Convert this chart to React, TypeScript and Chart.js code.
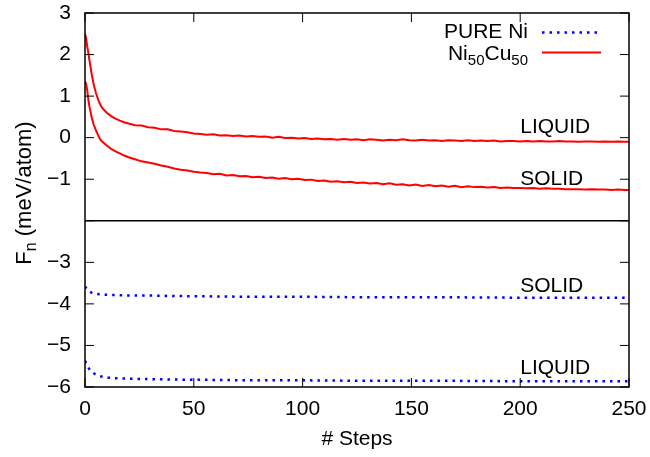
import React, { useEffect, useRef } from "react";
import { Chart, registerables } from "chart.js";

Chart.register(...registerables);

// ---------- data ----------
const redSteps = [
  0, 0.5, 1, 1.5, 2, 3, 4, 5, 6, 7, 8, 10, 12, 14, 16, 18,
  20, 23, 26, 29, 32, 35, 38, 41, 44, 47, 50, 53, 56, 59, 62, 65, 68, 71, 74, 77,
  80, 83, 86, 89, 92, 95, 98, 101, 104, 107, 110, 113, 116, 119, 122, 125, 128, 131, 134, 137,
  140, 143, 146, 149, 152, 155, 158, 161, 164, 167, 170, 173, 176, 179, 182, 185, 188, 191, 194, 197,
  200, 203, 206, 209, 212, 215, 218, 221, 224, 227, 230, 233, 236, 239, 242, 245, 248, 250,
];

const niCuLiquid = [
  2.5, 2.4, 2.2, 2.05, 1.88, 1.55, 1.28, 1.08, 0.92, 0.8, 0.71, 0.6, 0.52, 0.46, 0.41, 0.37,
  0.34, 0.3, 0.29, 0.25, 0.24, 0.2, 0.2, 0.16, 0.15, 0.13, 0.1, 0.09, 0.07, 0.08, 0.05, 0.06, 0.04, 0.05, 0.03, 0.04,
  0.02, 0.03, 0.0, 0.02, -0.01, 0.0, -0.02, -0.01, -0.03, -0.02, -0.04, -0.03, -0.05, -0.03, -0.05, -0.04, -0.06, -0.04, -0.05, -0.07,
  -0.05, -0.06, -0.04, -0.06, -0.07, -0.05, -0.07, -0.06, -0.08, -0.06, -0.07, -0.08, -0.06, -0.08, -0.07, -0.08, -0.07, -0.09, -0.08, -0.08,
  -0.09, -0.08, -0.09, -0.08, -0.09, -0.09, -0.08, -0.09, -0.09, -0.1, -0.09, -0.09, -0.1, -0.09, -0.1, -0.09, -0.1, -0.1,
];

const niCuSolid = [
  1.35, 1.3, 1.15, 0.93, 0.76, 0.5, 0.31, 0.18, 0.06, -0.04, -0.1, -0.19, -0.27, -0.33, -0.38, -0.43,
  -0.47, -0.52, -0.57, -0.6, -0.63, -0.67, -0.7, -0.74, -0.77, -0.79, -0.82, -0.84, -0.85, -0.88, -0.87, -0.91, -0.9, -0.93, -0.92, -0.95,
  -0.94, -0.97, -0.96, -0.99, -0.97, -1.0, -0.99, -1.02, -1.01, -1.04, -1.03, -1.06, -1.05, -1.07, -1.06, -1.09, -1.08, -1.1, -1.09, -1.12,
  -1.1, -1.13, -1.12, -1.15, -1.13, -1.16, -1.14, -1.17, -1.15, -1.18, -1.16, -1.19, -1.17, -1.19, -1.18, -1.2, -1.19, -1.21, -1.2, -1.21,
  -1.21, -1.22, -1.21, -1.23, -1.22, -1.23, -1.23, -1.24, -1.24, -1.24, -1.25, -1.24, -1.25, -1.25, -1.26, -1.25, -1.26, -1.26,
];

const blueSteps = [0, 1, 2, 3, 4, 5, 7, 10, 15, 20, 30, 40, 60, 80, 100, 130, 160, 200, 250];
const niSolid = [-3.58, -3.65, -3.7, -3.73, -3.75, -3.76, -3.77, -3.78, -3.79, -3.8, -3.8, -3.81, -3.82, -3.83, -3.83, -3.84, -3.84, -3.85, -3.85];
const niLiquid = [-5.37, -5.48, -5.57, -5.63, -5.67, -5.7, -5.74, -5.77, -5.79, -5.8, -5.81, -5.82, -5.83, -5.84, -5.84, -5.85, -5.85, -5.86, -5.86];

const xTicks = [0, 50, 100, 150, 200, 250];
const separatorY = -2;
const curveLabels = [
  { text: "LIQUID", x: 200, y: 0.24 },
  { text: "SOLID", x: 200, y: -1.0 },
  { text: "SOLID", x: 200, y: -3.57 },
  { text: "LIQUID", x: 200, y: -5.54 },
];

// ---------- styles ----------
const FONT = '"Liberation Sans", Arial, Helvetica, sans-serif';
const RED = "#ff0000";
const BLUE = "#0000ff";

const toXY = (xs: number[], ys: number[]) => xs.map((x, i) => ({ x, y: ys[i] }));

const zeroPad = (s: any) => {
  s.paddingTop = 0;
  s.paddingBottom = 0;
  s.paddingLeft = 0;
  s.paddingRight = 0;
};

const overlay = {
  id: "overlay",
  afterDraw(chart: any) {
    const { ctx, chartArea: a, scales } = chart;
    const xs = scales.x;
    const ys = scales.y;
    ctx.save();
    ctx.strokeStyle = "#000";
    ctx.lineWidth = 1.5;
    // frame
    ctx.strokeRect(a.left, a.top, a.right - a.left, a.bottom - a.top);
    // separator
    const yS = ys.getPixelForValue(separatorY);
    ctx.beginPath();
    ctx.moveTo(a.left, yS);
    ctx.lineTo(a.right, yS);
    ctx.stroke();
    // inward ticks
    const TL = 9;
    ctx.lineWidth = 1;
    ctx.beginPath();
    for (const t of ys.ticks) {
      const p = ys.getPixelForValue(t.value);
      ctx.moveTo(a.left, p);
      ctx.lineTo(a.left + TL, p);
      ctx.moveTo(a.right, p);
      ctx.lineTo(a.right - TL, p);
    }
    for (const t of xs.ticks) {
      const p = xs.getPixelForValue(t.value);
      ctx.moveTo(p, a.bottom);
      ctx.lineTo(p, a.bottom - TL);
      ctx.moveTo(p, a.top);
      ctx.lineTo(p, a.top + TL);
    }
    ctx.stroke();

    const big = `21px ${FONT}`;
    const small = `15px ${FONT}`;

    // curve labels
    ctx.fillStyle = "#000";
    ctx.font = big;
    ctx.textAlign = "left";
    ctx.textBaseline = "middle";
    for (const l of curveLabels) {
      ctx.fillText(l.text, xs.getPixelForValue(l.x), ys.getPixelForValue(l.y));
    }

    // legend
    const rightText = 528;
    const lx0 = 542;
    const lx1 = 601;
    const r1 = 32.5;
    const r2 = 52.5;
    ctx.textAlign = "right";
    ctx.fillText("PURE Ni", rightText, r1);
    ctx.save();
    ctx.strokeStyle = BLUE;
    ctx.lineWidth = 2.5;
    ctx.setLineDash([2.5, 5]);
    ctx.beginPath();
    ctx.moveTo(lx0, r1);
    ctx.lineTo(lx1, r1);
    ctx.stroke();
    ctx.restore();
    ctx.save();
    ctx.strokeStyle = RED;
    ctx.lineWidth = 2;
    ctx.beginPath();
    ctx.moveTo(lx0, r2);
    ctx.lineTo(lx1, r2);
    ctx.stroke();
    ctx.restore();
    // Ni50Cu50 with subscripts
    const parts = [
      { t: "Ni", sub: false },
      { t: "50", sub: true },
      { t: "Cu", sub: false },
      { t: "50", sub: true },
    ];
    ctx.textAlign = "left";
    ctx.textBaseline = "alphabetic";
    let w = 0;
    for (const p of parts) {
      ctx.font = p.sub ? small : big;
      w += ctx.measureText(p.t).width;
    }
    let cx = rightText - w;
    const base = r2 + 7.5;
    for (const p of parts) {
      ctx.font = p.sub ? small : big;
      ctx.fillText(p.t, cx, p.sub ? base + 5 : base);
      cx += ctx.measureText(p.t).width;
    }

    // x title
    ctx.font = big;
    ctx.textAlign = "center";
    ctx.textBaseline = "middle";
    ctx.fillText("# Steps", (a.left + a.right) / 2, 439);

    // y title (rotated) : F_n (meV/atom)
    const yBig = `22px ${FONT}`;
    const ySmall = `16px ${FONT}`;
    ctx.save();
    ctx.translate(23, 193);
    ctx.rotate(-Math.PI / 2);
    const yParts = [
      { t: "F", sub: false },
      { t: "n", sub: true },
      { t: " (meV/atom)", sub: false },
    ];
    let yw = 0;
    for (const p of yParts) {
      ctx.font = p.sub ? ySmall : yBig;
      yw += ctx.measureText(p.t).width;
    }
    let yx = -yw / 2;
    ctx.textAlign = "left";
    ctx.textBaseline = "alphabetic";
    for (const p of yParts) {
      ctx.font = p.sub ? ySmall : yBig;
      ctx.fillText(p.t, yx, p.sub ? 13 : 8);
      yx += ctx.measureText(p.t).width;
    }
    ctx.restore();

    ctx.restore();
  },
};

export default function App() {
  const ref = useRef<HTMLCanvasElement | null>(null);
  useEffect(() => {
    document.body.style.margin = "0";
    const canvas = ref.current;
    if (!canvas) return;
    const chart = new Chart(canvas, {
      type: "line",
      data: {
        datasets: [
          {
            label: "Ni50Cu50 liquid",
            data: toXY(redSteps, niCuLiquid),
            borderColor: RED,
            borderWidth: 2,
            pointRadius: 0,
            tension: 0,
          },
          {
            label: "Ni50Cu50 solid",
            data: toXY(redSteps, niCuSolid),
            borderColor: RED,
            borderWidth: 2,
            pointRadius: 0,
            tension: 0,
          },
          {
            label: "PURE Ni solid",
            data: toXY(blueSteps, niSolid),
            borderColor: BLUE,
            borderWidth: 2.5,
            borderDash: [2.5, 5],
            pointRadius: 0,
            cubicInterpolationMode: "monotone",
          },
          {
            label: "PURE Ni liquid",
            data: toXY(blueSteps, niLiquid),
            borderColor: BLUE,
            borderWidth: 2.5,
            borderDash: [2.5, 5],
            pointRadius: 0,
            cubicInterpolationMode: "monotone",
          },
        ],
      },
      options: {
        responsive: false,
        animation: false,
        layout: { padding: { top: 13, right: 21, left: 0, bottom: 0 } },
        plugins: {
          legend: { display: false },
          tooltip: { enabled: false },
        },
        scales: {
          x: {
            type: "linear",
            min: 0,
            max: 250,
            afterBuildTicks: (s: any) => {
              s.ticks = xTicks.map((v) => ({ value: v }));
            },
            afterFit: (s: any) => {
              s.height = 70;
              zeroPad(s);
            },
            ticks: {
              color: "#000",
              font: { family: FONT, size: 21 },
              padding: 10,
              maxRotation: 0,
            },
            grid: { display: false, drawTicks: false },
            border: { display: false },
          },
          y: {
            type: "linear",
            min: -6,
            max: 3,
            afterFit: (s: any) => {
              s.width = 85;
              zeroPad(s);
            },
            ticks: {
              stepSize: 1,
              color: "#000",
              font: { family: FONT, size: 21 },
              padding: 14,
              callback: (v: any) => {
                const n = Number(v);
                if (n === separatorY) return "";
                return n < 0 ? "\u2212" + Math.abs(n) : String(n);
              },
            },
            grid: { display: false, drawTicks: false },
            border: { display: false },
          },
        },
      },
      plugins: [overlay],
    });
    return () => chart.destroy();
  }, []);
  return (
    <div style={{ position: "absolute", left: 0, top: 0, width: 650, height: 457 }}>
      <canvas ref={ref} width={650} height={457} style={{ display: "block" }} />
    </div>
  );
}
